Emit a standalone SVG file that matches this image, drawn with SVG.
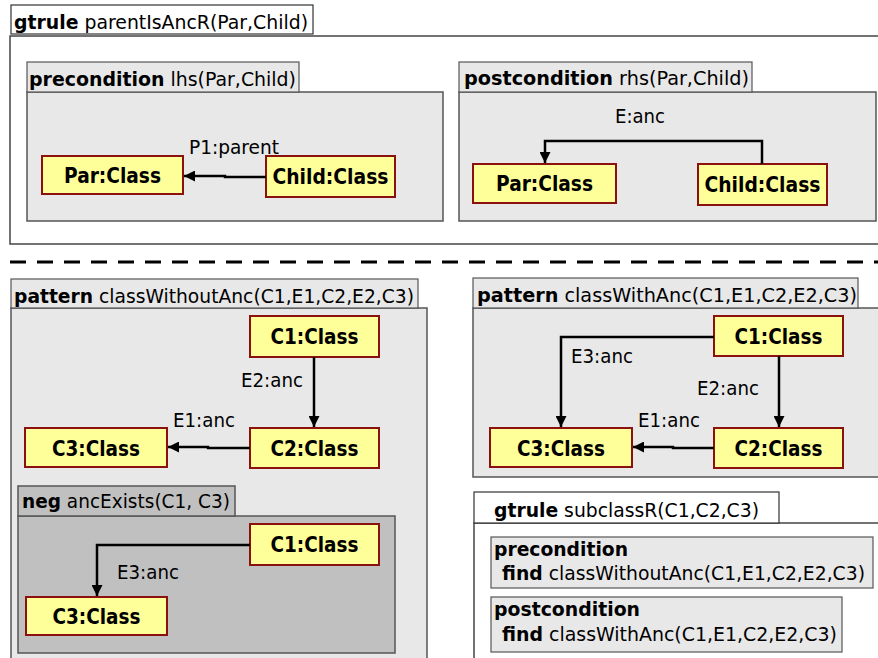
<svg xmlns="http://www.w3.org/2000/svg" width="878" height="658" viewBox="0 0 878 658">
<style>
text{font-family:"DejaVu Sans","Liberation Sans",sans-serif;font-size:20px;fill:#000}
.b{font-weight:bold}
.el{font-size:19.5px}
.nt{font-weight:bold;text-anchor:middle;font-size:21px}
.node rect{fill:#ffff99;stroke:#8b1111;stroke-width:2}
.body{fill:#e8e8e8;stroke:#555;stroke-width:1.5}
.neg{fill:#c0c0c0;stroke:#555;stroke-width:1.5}
.tab{fill:#e8e8e8;stroke:#555;stroke-width:1.2}
.wtab{fill:#fff;stroke:#333;stroke-width:1.2}
.fline{fill:none;stroke:#444;stroke-width:1.5}
.edge{fill:none;stroke:#000;stroke-width:2.5;marker-end:url(#arr)}
</style>
<defs>
<marker id="arr" viewBox="0 0 12 12" refX="12" refY="6" markerWidth="12" markerHeight="11" markerUnits="userSpaceOnUse" orient="auto">
<path d="M0,0 L12,6 L0,12 z" fill="#000"/>
</marker>
</defs>
<rect width="878" height="658" fill="#fff"/>

<g id="gtrule-parentIsAncR">
<path class="fline" d="M878,36 H10 V244 H878"/>
<rect class="wtab" x="11" y="5" width="302" height="29"/>
<text x="14" y="29" textLength="294" lengthAdjust="spacingAndGlyphs"><tspan class="b">gtrule</tspan> parentIsAncR(Par,Child)</text>
</g>

<g id="lhs">
<rect class="body" x="27" y="92" width="416" height="129"/>
<rect class="tab" x="27" y="62" width="272" height="30"/>
<text x="29" y="86" textLength="267" lengthAdjust="spacingAndGlyphs"><tspan class="b">precondition</tspan> lhs(Par,Child)</text>
<text class="el" x="189" y="154" textLength="90" lengthAdjust="spacingAndGlyphs">P1:parent</text>
</g>
<g id="lhs-par" class="node"><rect x="42" y="156" width="141" height="38"/><text class="nt" x="112.5" y="183" textLength="97" lengthAdjust="spacingAndGlyphs">Par:Class</text></g>
<g id="lhs-child" class="node"><rect x="266" y="156" width="129" height="41"/><text class="nt" x="330.5" y="184" textLength="116" lengthAdjust="spacingAndGlyphs">Child:Class</text></g>

<g id="rhs">
<rect class="body" x="459" y="92" width="417" height="129"/>
<rect class="tab" x="459" y="62" width="293" height="30"/>
<text x="464" y="85" textLength="285" lengthAdjust="spacingAndGlyphs"><tspan class="b">postcondition</tspan>  rhs(Par,Child)</text>
<text class="el" x="615" y="123" textLength="50" lengthAdjust="spacingAndGlyphs">E:anc</text>
</g>
<g id="rhs-par" class="node"><rect x="473" y="164" width="143" height="39"/><text class="nt" x="544.5" y="191" textLength="97" lengthAdjust="spacingAndGlyphs">Par:Class</text></g>
<g id="rhs-child" class="node"><rect x="698" y="164" width="129" height="41"/><text class="nt" x="762.5" y="192" textLength="116" lengthAdjust="spacingAndGlyphs">Child:Class</text></g>

<line x1="10" y1="262" x2="878" y2="262" stroke="#000" stroke-width="3" stroke-dasharray="16 11"/>

<g id="classWithoutAnc">
<path class="body" d="M11,658 V308 H427 V658"/>
<rect class="tab" x="11" y="279" width="407" height="29"/>
<text x="14" y="303" textLength="400" lengthAdjust="spacingAndGlyphs"><tspan class="b">pattern</tspan> classWithoutAnc(C1,E1,C2,E2,C3)</text>
<text class="el" x="241" y="387" textLength="62" lengthAdjust="spacingAndGlyphs">E2:anc</text>
<text class="el" x="173" y="427" textLength="62" lengthAdjust="spacingAndGlyphs">E1:anc</text>
</g>
<g id="cwo-c1" class="node"><rect x="250" y="316" width="129" height="41"/><text class="nt" x="314.5" y="344" textLength="88" lengthAdjust="spacingAndGlyphs">C1:Class</text></g>
<g id="cwo-c2" class="node"><rect x="250" y="428" width="129" height="40"/><text class="nt" x="314.5" y="456" textLength="88" lengthAdjust="spacingAndGlyphs">C2:Class</text></g>
<g id="cwo-c3" class="node"><rect x="25" y="428" width="142" height="39"/><text class="nt" x="96" y="456" textLength="88" lengthAdjust="spacingAndGlyphs">C3:Class</text></g>

<g id="neg-ancExists">
<rect class="neg" x="18" y="516" width="377" height="137"/>
<rect class="neg" x="18" y="486" width="217" height="30"/>
<text x="22" y="508" textLength="208" lengthAdjust="spacingAndGlyphs"><tspan class="b">neg</tspan> ancExists(C1, C3)</text>
<text class="el" x="117" y="579" textLength="62" lengthAdjust="spacingAndGlyphs">E3:anc</text>
</g>
<g id="neg-c1" class="node"><rect x="250" y="524" width="129" height="41"/><text class="nt" x="314.5" y="552" textLength="88" lengthAdjust="spacingAndGlyphs">C1:Class</text></g>
<g id="neg-c3" class="node"><rect x="26" y="597" width="141" height="38"/><text class="nt" x="96.5" y="624" textLength="88" lengthAdjust="spacingAndGlyphs">C3:Class</text></g>

<g id="classWithAnc">
<path class="body" d="M878,308 H473 V477 H878"/>
<rect class="tab" x="473" y="278" width="385" height="30"/>
<text x="477" y="302" textLength="380" lengthAdjust="spacingAndGlyphs"><tspan class="b">pattern</tspan>  classWithAnc(C1,E1,C2,E2,C3)</text>
<text class="el" x="571" y="363" textLength="62" lengthAdjust="spacingAndGlyphs">E3:anc</text>
<text class="el" x="697" y="395" textLength="62" lengthAdjust="spacingAndGlyphs">E2:anc</text>
<text class="el" x="638" y="427" textLength="62" lengthAdjust="spacingAndGlyphs">E1:anc</text>
</g>
<g id="cw-c1" class="node"><rect x="714" y="316" width="129" height="40"/><text class="nt" x="778.5" y="344" textLength="88" lengthAdjust="spacingAndGlyphs">C1:Class</text></g>
<g id="cw-c2" class="node"><rect x="714" y="428" width="129" height="40"/><text class="nt" x="778.5" y="456" textLength="88" lengthAdjust="spacingAndGlyphs">C2:Class</text></g>
<g id="cw-c3" class="node"><rect x="490" y="428" width="142" height="39"/><text class="nt" x="561" y="456" textLength="88" lengthAdjust="spacingAndGlyphs">C3:Class</text></g>

<g id="gtrule-subclassR">
<path class="fline" d="M878,523 H474 V658"/>
<rect class="wtab" x="474" y="492" width="305" height="31"/>
<text x="494" y="517" textLength="265" lengthAdjust="spacingAndGlyphs"><tspan class="b">gtrule</tspan> subclassR(C1,C2,C3)</text>
<rect class="tab" x="491" y="537" width="382" height="51"/>
<text class="b" x="494" y="556" textLength="134" lengthAdjust="spacingAndGlyphs">precondition</text>
<text x="502" y="580" textLength="363" lengthAdjust="spacingAndGlyphs"><tspan class="b">find</tspan> classWithoutAnc(C1,E1,C2,E2,C3)</text>
<rect class="tab" x="491" y="597" width="351" height="55"/>
<text class="b" x="494" y="616" textLength="146" lengthAdjust="spacingAndGlyphs">postcondition</text>
<text x="502" y="641" textLength="335" lengthAdjust="spacingAndGlyphs"><tspan class="b">find</tspan> classWithAnc(C1,E1,C2,E2,C3)</text>
</g>

<g id="connectors">
<path class="edge" d="M266,177 H225 V176 H184"/>
<path class="edge" d="M762,164 V141 H545 V163"/>
<path class="edge" d="M314,357 V427"/>
<path class="edge" d="M250,448 H208 V447 H168"/>
<path class="edge" d="M250,545 H97 V596"/>
<path class="edge" d="M714,337 H561 V427"/>
<path class="edge" d="M779,356 V427"/>
<path class="edge" d="M714,448 H673 V447 H633"/>
</g>
</svg>
